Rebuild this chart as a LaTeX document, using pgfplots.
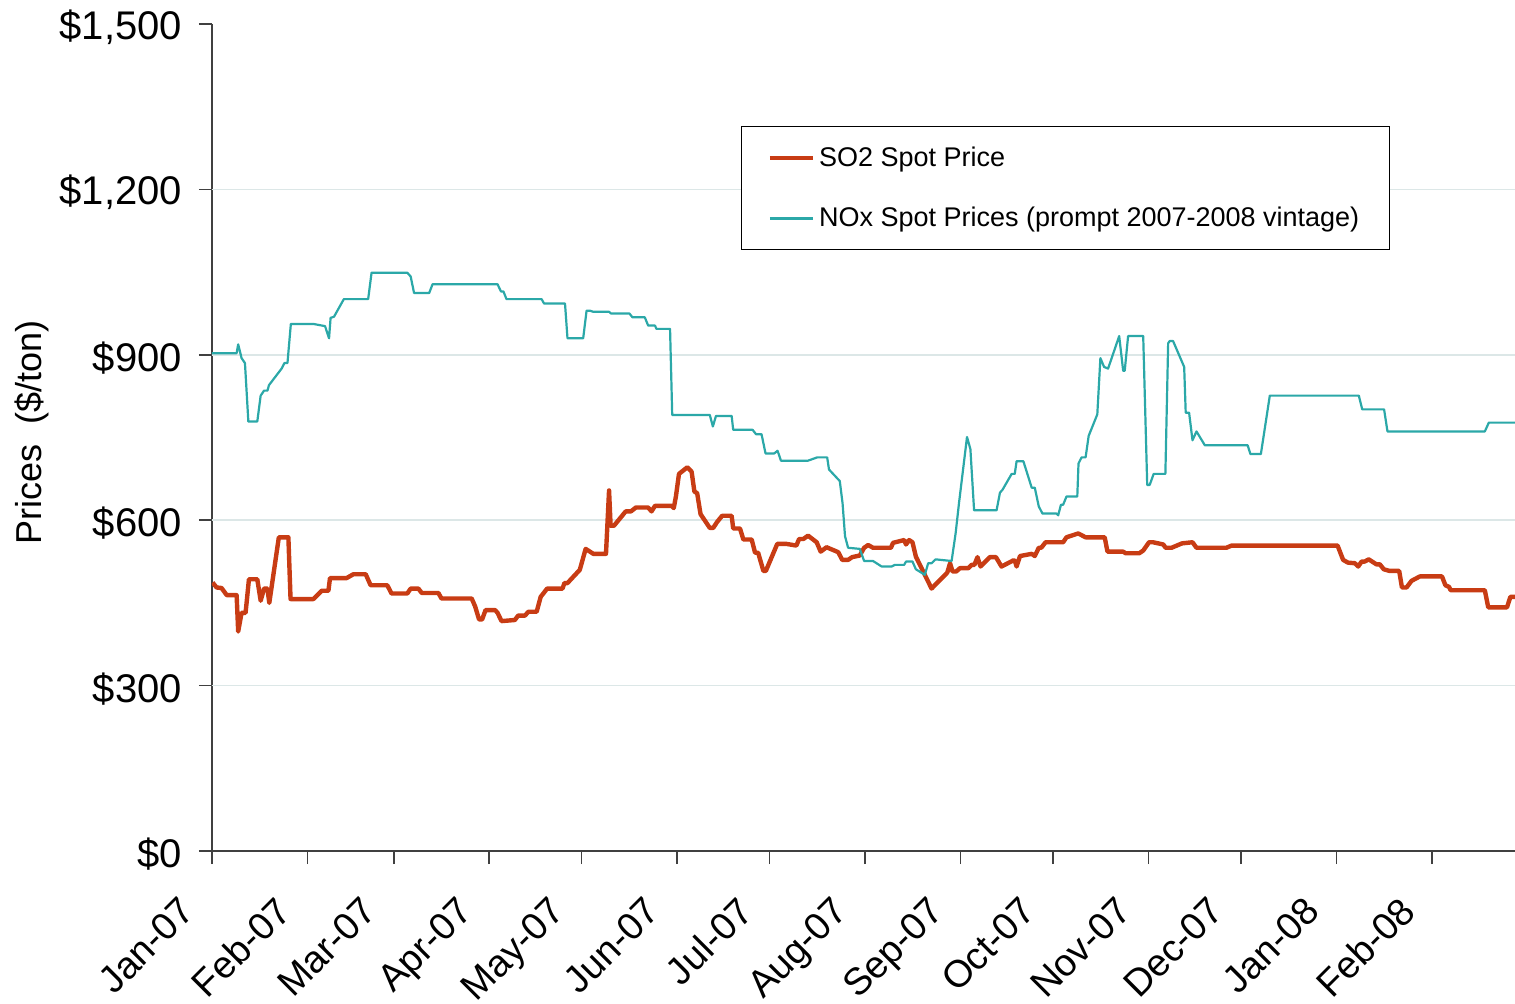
\documentclass[border=0pt]{standalone}
\usepackage{fontspec}
\setmainfont{Liberation Sans}
\usepackage{pgfplots}
\pgfplotsset{compat=1.18}
\definecolor{so2}{HTML}{C83C14}
\definecolor{nox}{HTML}{2BA8A8}
\definecolor{gridc}{HTML}{DCE7E7}
\definecolor{axc}{HTML}{404040}
\begin{document}
\begin{tikzpicture}
\begin{axis}[
  at={(0pt,0pt)}, anchor=south west,
  scale only axis, width=651.5pt, height=413.5pt,
  xmin=0, xmax=423, ymin=0, ymax=1500,
  axis x line*=bottom, axis y line*=left,
  axis line style={axc, line width=0.8pt, -},
  tick style={axc, line width=0.8pt},
  tick align=outside, major tick length=6.5pt,
  /pgf/number format/assume math mode=true,
  ytick={0,300,600,900,1200,1500},
  yticklabels={\$0,\$300,\$600,\$900,{\$1,200},{\$1,500}},
  extra y ticks={300,600,900,1200},
  extra y tick labels={},
  extra y tick style={grid=major, major tick length=0pt, grid style={gridc, line width=0.8pt}},
  xtick={0,31,59,90,120,151,181,212,243,273,304,334,365,396},
  xticklabels={Jan-07,Feb-07,Mar-07,Apr-07,May-07,Jun-07,Jul-07,Aug-07,Sep-07,Oct-07,Nov-07,Dec-07,Jan-08,Feb-08},
  yticklabel style={font=\fontsize{20pt}{24pt}\selectfont, anchor=east, xshift=-5pt, yshift=-1.5pt},
  xticklabel style={font=\fontsize{19pt}{22pt}\selectfont, inner sep=0pt, shift={(-17pt,-15pt)}, rotate=45, anchor=north east},
  every axis y label/.style={at={(axis description cs:-0.1381,0.5066)}, rotate=90, anchor=center, font=\fontsize{18pt}{21pt}\selectfont},
  ylabel={Prices\ \ (\$/ton)},
  legend style={at={(rel axis cs:0.406,0.8767)}, anchor=north west, draw=black, line width=0.6pt,
    font=\fontsize{13.5pt}{16pt}\selectfont, row sep=15pt, inner xsep=13pt, inner ysep=8pt,
    legend cell align=left},
  legend image code/.code={\draw[#1] (0pt,0pt) -- (21.5pt,0pt);},
]
\addplot[so2, line width=2.2pt, line join=round] coordinates {
(0.2,487) (1.5,478) (3.1,477) (4.8,464) (8,464) (8.5,398) (9.6,432) (10.9,432) (12,493) (14.7,493)
(15.8,454) (16.9,476) (18,476) (18.6,450) (21.7,569) (24.8,569) (25.5,457) (32.9,457) (35.6,472) (37.8,472)
(38.3,495) (43.7,495) (45.9,502) (49.9,502) (51.5,482) (56.9,482) (58.3,467) (63.4,467) (64.5,476) (67,476)
(68.1,468) (73.5,468) (74.5,458) (84.3,458) (85.4,444) (86.7,420) (87.7,420) (88.8,437) (91.9,437) (92.7,432)
(94,417) (98.3,419) (99.4,427) (101.6,427) (102.7,434) (105.4,434) (106.7,461) (108.8,476) (113.8,476) (114.4,486)
(115.4,486) (119.4,510) (121.3,548) (123.8,539) (127.9,539) (128.9,654) (129.4,590) (130.5,590) (134.3,616) (136,616)
(137.6,623) (141.6,623) (142.7,616) (143.8,626) (149.2,626) (149.9,622) (150.6,643) (151.6,684) (154.3,696) (155.7,688)
(156.6,652) (157.5,649) (158.6,611) (161.6,586) (162.7,586) (164,597) (165.6,608) (168.7,608) (169.2,585) (171.4,585)
(172.5,565) (175.2,565) (176.3,541) (177.3,541) (179,508) (179.8,508) (183.5,557) (186.5,557) (189.7,554) (190.6,566)
(192,566) (193.5,572) (196.3,560) (197.6,543) (199.5,551) (203.3,542) (204.6,528) (206.5,528) (207.8,533) (210.3,536)
(211.7,550) (213,555) (214.6,550) (220.4,550) (221.1,559) (224.7,564) (225.3,556) (226.3,564) (227.4,560) (228.5,534)
(233.6,476) (238.7,505) (239.6,522) (240.4,507) (241.6,507) (242.8,513) (245.5,513) (246.6,519) (247.5,519) (248.5,533)
(249.5,516) (252.5,533) (254.5,533) (256.3,516) (260.1,527) (260.6,527) (261.2,516) (262.3,535) (266.1,539) (267.1,535)
(268.4,550) (269.2,550) (270.6,560) (276.3,560) (277.4,569) (281.2,576) (283.6,569) (289.8,569) (290.7,543) (295.8,543)
(296.6,540) (301,540) (302.3,545) (304.2,560) (305.5,560) (308.8,556) (309.6,550) (311.5,550) (314.9,558) (318.3,560)
(319.6,550) (329.3,550) (331,554) (365.4,554) (367.2,528) (368.8,523) (371,522) (372.1,516) (373.2,525) (374.2,525)
(375.5,529) (378,520) (379.1,520) (380.4,511) (382.3,508) (385.4,508) (386.3,478) (387.8,478) (389.4,490) (392.1,498)
(399.3,498) (400.4,482) (401.6,479) (402.1,473) (413.2,473) (414.3,442) (420.4,442) (421.5,461) (423,461)
};
\addlegendentry{SO2 Spot Price}
\addplot[nox, line width=1.1pt, line join=round] coordinates {
(0,903) (8,903) (8.5,919) (9.6,894) (10.7,885) (11.8,779) (14.7,779) (15.8,826) (16.9,835) (18,835)
(18.5,845) (22.6,875) (23.5,885) (24.5,885) (25.6,956) (32.9,956) (36.7,952) (38,930) (38.5,967) (39.6,969)
(42.8,1001) (50.7,1001) (51.8,1049) (63.4,1049) (64.5,1042) (65.6,1012) (70.5,1012) (71.6,1028) (92.7,1028) (93.8,1015)
(94.6,1015) (95.6,1001) (107,1001) (107.8,993) (114.6,993) (115.4,930) (120.5,930) (121.6,980) (122.7,980) (123.8,978)
(128.9,978) (129.5,975) (135.5,975) (136.5,968) (140.5,968) (141.6,953) (143.8,953) (144.3,947) (148.7,947) (149.4,791)
(161.6,791) (162.6,770) (163.6,789) (168.7,789) (169.2,764) (175.5,764) (176.6,756) (178.4,756) (179.7,721) (182.5,721)
(183.6,726) (184.7,708) (193.5,708) (196.5,714) (199.7,714) (200.3,692) (203.8,671) (204.7,631) (205.5,571) (206.5,550)
(210.3,548) (211.7,526) (214.6,526) (217.4,516) (220.6,516) (221.7,519) (224.7,519) (225.3,525) (227.4,525) (228.5,511)
(231.4,501) (232.5,522) (233.6,522) (234.9,529) (240.1,526) (241.4,576) (242.5,631) (245.1,751) (246.2,729) (247.4,618)
(254.7,618) (255.8,650) (256.6,655) (259.6,684) (260.6,684) (261.2,707) (263.4,707) (266.1,659) (267.1,659) (268.4,625)
(269.6,612) (274.2,612) (274.7,609) (275.6,628) (276.3,628) (277.4,643) (280.9,643) (281.3,703) (282.3,714) (283.6,714)
(284.6,753) (287.4,792) (288.4,894) (289.6,878) (290.9,875) (294.5,934) (295.8,871) (296.3,871) (297.4,934) (302.3,934)
(303.6,664) (304.4,664) (305.7,684) (309.5,684) (310.4,921) (310.9,925) (312,925) (315.6,878) (316.1,795) (317.2,795)
(318.3,745) (319.6,761) (322.3,736) (336.2,736) (337.1,720) (340.5,720) (343.4,826) (372.3,826) (373.4,801) (380.5,801)
(381.6,761) (413.2,761) (414.5,777) (423,777)
};
\addlegendentry{NOx Spot Prices (prompt 2007-2008 vintage)}
\end{axis}
\pgfresetboundingbox
\useasboundingbox (-106pt,-76pt) rectangle (651.5pt,425.5pt);
\end{tikzpicture}
\end{document}
